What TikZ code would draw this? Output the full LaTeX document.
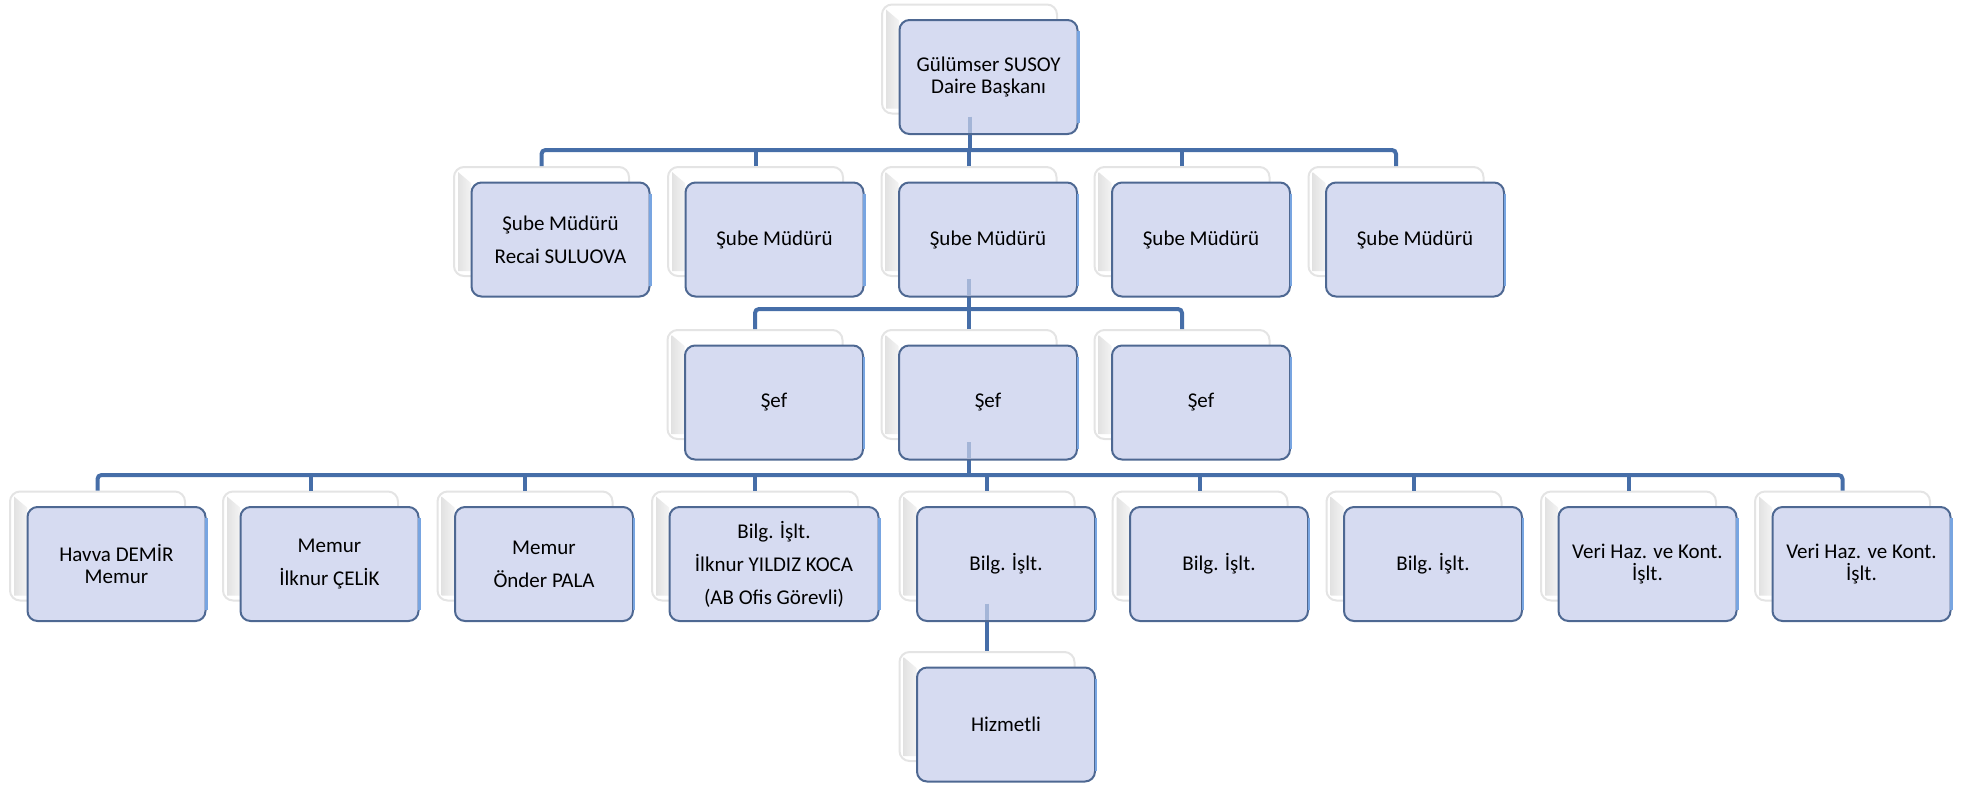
\documentclass[tikz,border=0pt]{standalone}
\usepackage{fontspec}
\setmainfont{Carlito}
\definecolor{frontfill}{RGB}{214,219,241}
\definecolor{frontline}{RGB}{78,104,146}
\definecolor{edgehi}{RGB}{120,165,225}
\definecolor{connector}{RGB}{70,110,168}
\definecolor{backline}{RGB}{228,228,228}
\definecolor{bevelgray}{RGB}{226,226,226}
\newcommand\tfnt{\fontsize{10.5}{11}\selectfont}
\newcommand\lfnt{\fontsize{10.5}{16.5}\selectfont}
\tikzset{
  backbox/.style={draw=backline, line width=1pt, fill=white, rounded corners=5pt,
    minimum width=87.5pt, minimum height=54.5pt, inner sep=0pt},
  frontbox/.style={draw=frontline, line width=1pt, fill=frontfill, rounded corners=5pt,
    minimum width=89pt, minimum height=57pt, inner sep=0pt, align=center, font=\tfnt},
  loose/.style={font=\lfnt},
  conn/.style={draw=connector, line width=2pt},
  connfaint/.style={draw=connector!35!frontfill, line width=2pt},
  hiedge/.style={draw=edgehi, line width=1.1pt},
}
\newcommand\backnode[4][]{%
  \node[backbox,#1] (#2) at (#3,#4) {};
  \shade[left color=bevelgray, right color=white!60!bevelgray]
    ([shift={(5,6)}]#2.north west) -- ([shift={(18,17)}]#2.north west)
    -- ([shift={(18,-6)}]#2.south west) -- ([shift={(5,-6)}]#2.south west) -- cycle;
}
\newcommand\frontnode[4][]{%
  \node[frontbox,#1] (#2) at ([shift={(19,18)}]#3.center) {#4};
  \draw[hiedge] ([yshift=-6pt]#2.north east) -- ([yshift=6pt]#2.south east);
}
\newcommand\faintline[2]{%
  \draw[connfaint] ([yshift=-1pt]#1.south) -- ([yshift=1.2pt]#1.south |- #2.south);
}
\begin{document}
\begin{tikzpicture}[x=0.5pt,y=-0.5pt]
\useasboundingbox (0,0) rectangle (1977,784);
% back boxes
\backnode{dbb}{969.5}{59}
\backnode{s1b}{541.5}{221.5}
\backnode{s2b}{755.5}{221.5}
\backnode{s3b}{969}{221.5}
\backnode{s4b}{1182}{221.5}
\backnode{s5b}{1396}{221.5}
\backnode{f1b}{755}{384.5}
\backnode{f2b}{969}{384.5}
\backnode{f3b}{1182}{384.5}
\backnode{m1b}{97.5}{546}
\backnode{m2b}{310.5}{546}
\backnode{m3b}{525}{546}
\backnode[minimum width=103pt]{m4b}{755}{546}
\backnode{m5b}{987}{546}
\backnode{m6b}{1200}{546}
\backnode{m7b}{1414}{546}
\backnode{m8b}{1628.5}{546}
\backnode{m9b}{1842.5}{546}
\backnode{hb}{987}{706.5}
% connectors
\coordinate (j1) at (969.5,150);
\coordinate (j2) at (969,309);
\coordinate (j3) at (969,475);
\draw[conn] (dbb.south) -- (j1);
\draw[conn,rounded corners=2pt] (s1b.north) |- (j1) -| (s5b.north);
\foreach \n in {s2b,s3b,s4b} \draw[conn] (\n.north) -- (\n.north |- j1);
\draw[conn] (s3b.south) -- (j2);
\draw[conn,rounded corners=2pt] (f1b.north) |- (j2) -| (f3b.north);
\draw[conn] (f2b.north) -- (f2b.north |- j2);
\draw[conn] (f2b.south) -- (j3);
\draw[conn,rounded corners=2pt] (m1b.north) |- (j3) -| (m9b.north);
\foreach \n in {m2b,m3b,m4b,m5b,m6b,m7b,m8b} \draw[conn] (\n.north) -- (\n.north |- j3);
\draw[conn] (m5b.south) -- (hb.north);
% front boxes
\frontnode{db}{dbb}{Gülümser SUSOY\\Daire Başkanı}
\frontnode[loose]{s1}{s1b}{Şube Müdürü\\Recai SULUOVA}
\frontnode{s2}{s2b}{Şube Müdürü}
\frontnode{s3}{s3b}{Şube Müdürü}
\frontnode{s4}{s4b}{Şube Müdürü}
\frontnode{s5}{s5b}{Şube Müdürü}
\frontnode{f1}{f1b}{Şef}
\frontnode{f2}{f2b}{Şef}
\frontnode{f3}{f3b}{Şef}
\frontnode{m1}{m1b}{Havva DEMİR\\Memur}
\frontnode[loose]{m2}{m2b}{Memur\\İlknur ÇELİK}
\frontnode[loose]{m3}{m3b}{Memur\\Önder PALA}
\frontnode[loose,minimum width=104.5pt]{m4}{m4b}{Bilg. İşlt.\\İlknur YILDIZ KOCA\\(AB Ofis Görevli)}
\frontnode{m5}{m5b}{Bilg. İşlt.}
\frontnode{m6}{m6b}{Bilg. İşlt.}
\frontnode{m7}{m7b}{Bilg. İşlt.}
\frontnode{m8}{m8b}{Veri Haz. ve Kont.\\İşlt.}
\frontnode{m9}{m9b}{Veri Haz. ve Kont.\\İşlt.}
\frontnode{h}{hb}{Hizmetli}
% connector parts seen through the front boxes
\faintline{dbb}{db}
\faintline{s3b}{s3}
\faintline{f2b}{f2}
\faintline{m5b}{m5}
\end{tikzpicture}
\end{document}
